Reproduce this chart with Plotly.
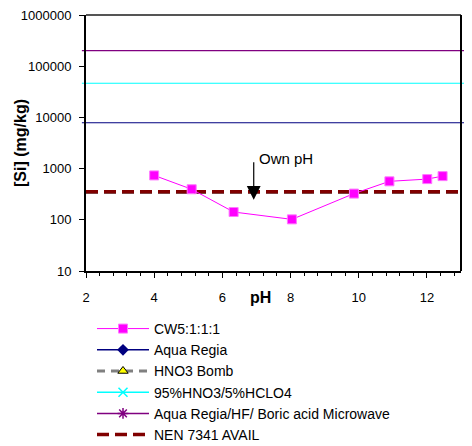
import plotly.graph_objects as go
import math

# ---- data ----
ph_cw5 = [4.0, 5.1, 6.33, 8.04, 9.86, 10.9, 12.01, 12.46]
si_cw5 = [736, 395, 142, 102, 325, 564, 624, 713]

series_names = ["CW5:1:1:1", "Aqua Regia", "HNO3 Bomb", "95%HNO3/5%HCLO4",
                "Aqua Regia/HF/ Boric acid Microwave", "NEN 7341 AVAIL"]
level_aqua_regia = 7870
level_hno3_bomb = 340
level_hclo4 = 46500
level_microwave = 202000
level_nen = 355

own_ph = 6.92
own_ph_si = 245

x_ticks = [2, 4, 6, 8, 10, 12]
y_ticks = [10, 100, 1000, 10000, 100000, 1000000]
y_ticklabels = ["10", "100", "1000", "10000", "100000", "1000000"]

fig = go.Figure()

fig.add_trace(go.Scatter(
    x=ph_cw5, y=si_cw5, name=series_names[0], mode="lines+markers",
    line=dict(color="#ff00ff", width=1),
    marker=dict(symbol="square", size=9, color="#ff00ff", line=dict(color="#ff77ff", width=1))))

legend_styles = [
    (series_names[1], dict(color="#000080", width=1.5), dict(symbol="diamond", size=9, color="#000080")),
    (series_names[2], dict(color="#808080", width=3, dash="8px,6px"), dict(symbol="triangle-up", size=9, color="#ffff00", line=dict(color="black", width=1))),
    (series_names[3], dict(color="#00ffff", width=1.5), dict(symbol="x-thin-open", size=9, color="#00ffff", line=dict(color="#00ffff", width=1.5))),
    (series_names[4], dict(color="#800080", width=1.5), dict(symbol="asterisk-open", size=9, color="#800080", line=dict(color="#800080", width=1.5))),
    (series_names[5], dict(color="#800000", width=3.5, dash="12px,6px"), None),
]
for name, ln, mk in legend_styles:
    fig.add_trace(go.Scatter(
        x=[None], y=[None], name=name,
        mode="lines+markers" if mk else "lines",
        line=ln, marker=mk if mk else dict()))

# horizontal reference levels
def hline(level, color, width, dash=None, x0=-0.011, x1=1.03):
    fig.add_shape(type="line", xref="paper", yref="y", x0=x0, x1=x1,
                  y0=level, y1=level, layer="below",
                  line=dict(color=color, width=width, dash=dash))

hline(level_microwave, "#800080", 1.2)
hline(level_hclo4, "#00ffff", 1.2)
hline(level_aqua_regia, "#000080", 1.2)
hline(level_hno3_bomb, "#808080", 3, dash="12px,6px", x0=0.0)
hline(level_nen, "#800000", 3.5, dash="12px,6px", x0=0.0)

# Own pH arrow
fig.add_annotation(x=own_ph, y=math.log10(own_ph_si), xref="x", yref="y",
                   text="", showarrow=True, ax=0, ay=-39,
                   arrowhead=2, arrowsize=2.3, arrowwidth=1.2, arrowcolor="black")
fig.add_annotation(x=own_ph, y=math.log10(own_ph_si), xref="x", yref="y",
                   text="Own pH", showarrow=False, xanchor="left", yanchor="middle",
                   xshift=3, yshift=41, font=dict(size=15, color="black"))

# axis titles
fig.add_annotation(text="<b>[Si] (mg/kg)</b>", xref="paper", yref="paper",
                   x=-0.176, y=0.5, textangle=-90, showarrow=False,
                   xanchor="center", yanchor="middle", font=dict(size=16, color="black"))
fig.add_annotation(text="<b>pH</b>", xref="paper", yref="paper",
                   x=0.464, y=-0.104, showarrow=False,
                   xanchor="center", yanchor="middle", font=dict(size=16, color="black"))

fig.update_xaxes(range=[2, 13], tickvals=x_ticks, ticks="outside", ticklen=5,
                 tickcolor="black", tickwidth=1, showgrid=False, zeroline=False,
                 showline=True, linecolor="black", linewidth=2, mirror=False,
                 automargin=False, ticklabeloverflow="allow",
                 ticklabelstandoff=8, tickfont=dict(size=13, color="black"),
                 minor=dict(dtick=0.4, tick0=2, ticks="outside", ticklen=3, tickcolor="black", showgrid=False))
fig.update_yaxes(type="log", range=[1, 6], tickvals=y_ticks, ticktext=y_ticklabels,
                 ticks="outside", ticklen=5, tickcolor="black", showgrid=False,
                 zeroline=False, showline=True, linecolor="black", linewidth=2,
                 automargin=False, ticklabeloverflow="allow",
                 ticklabelstandoff=5, tickfont=dict(size=13, color="black"))

# right/top frame
fig.add_shape(type="line", xref="paper", yref="paper", x0=0, x1=1, y0=1, y1=1,
              line=dict(color="#555555", width=2))
fig.add_shape(type="line", xref="paper", yref="paper", x0=1, x1=1, y0=0, y1=1,
              line=dict(color="black", width=2))

# page body has an 8px margin, so the figure is sized to fit inside the window
fig.update_layout(
    width=464, height=438,
    margin=dict(l=78, r=11, t=7, b=175),
    plot_bgcolor="white", paper_bgcolor="white",
    font=dict(family="Liberation Sans, Arial, sans-serif", color="black"),
    showlegend=True,
    legend=dict(x=0.016, y=0.3037, xanchor="left", yanchor="top", yref="container",
                font=dict(size=14, color="black"), itemwidth=52,
                bgcolor="rgba(0,0,0,0)", tracegroupgap=0),
)

fig.write_html("out.html")
